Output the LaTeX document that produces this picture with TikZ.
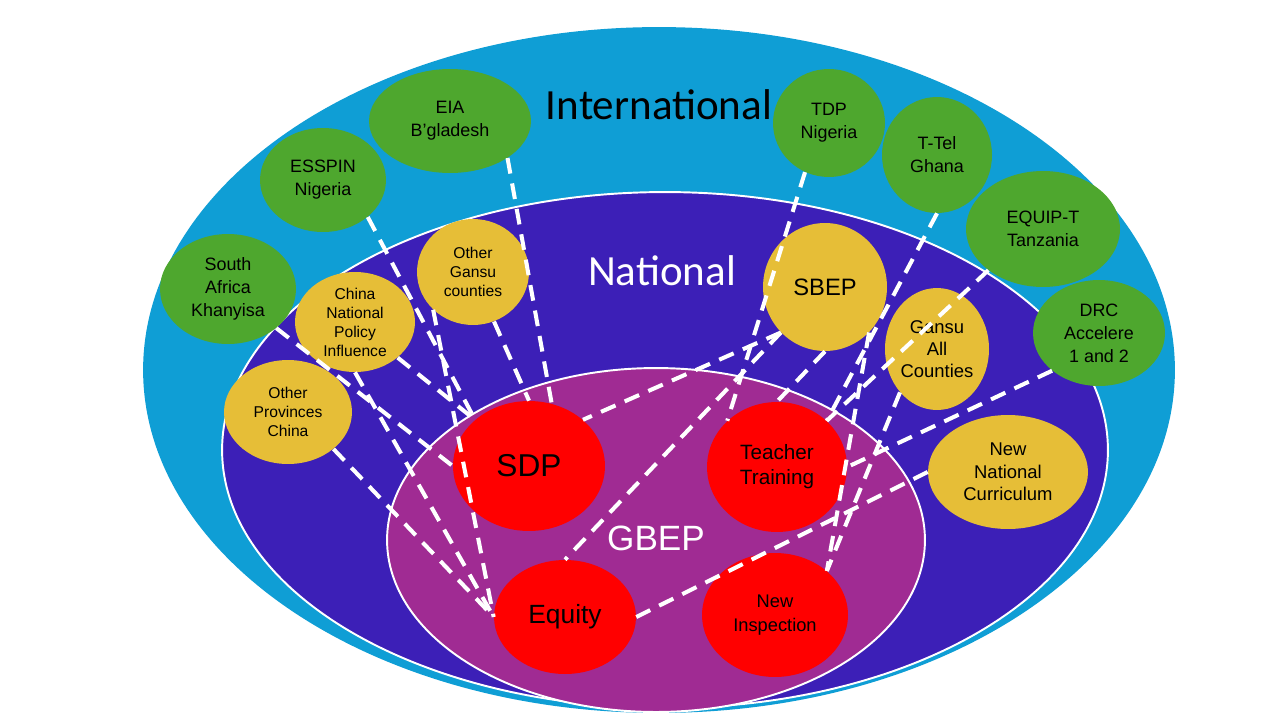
\documentclass[tikz,border=0pt]{standalone}
\usepackage{fontspec}
\setmainfont{Liberation Sans}
\newfontfamily\calibrifont{Carlito}
\usetikzlibrary{shapes.geometric}
\definecolor{intlblue}{HTML}{0F9ED5}
\definecolor{natlblue}{HTML}{3C1FB7}
\definecolor{gbeppurple}{HTML}{A02B93}
\definecolor{progreen}{HTML}{4EA72E}
\definecolor{proyellow}{HTML}{E6BE37}

\begin{document}
\begin{tikzpicture}[x=0.02cm,y=-0.02cm,
  intl/.style={ellipse,fill=progreen,inner sep=0pt,align=center,font=\fontsize{10.2}{13}\selectfont},
  natl/.style={ellipse,fill=proyellow,inner sep=0pt,align=center},
  core/.style={ellipse,fill=red,inner sep=0pt,align=center},
  link/.style={white,line width=2.3pt,dash pattern=on 9pt off 5.7pt}]
\useasboundingbox (0,0) rectangle (1280,720);

% Niveles
\fill[intlblue] (659,370) ellipse [x radius=10.32cm, y radius=6.86cm];
\filldraw[fill=natlblue, draw=white, line width=1.1pt] (665,450) ellipse [x radius=8.86cm, y radius=5.16cm];
\filldraw[fill=gbeppurple, draw=white, line width=1.1pt] (656,540) ellipse [x radius=5.38cm, y radius=3.44cm];

\node (intllabel) at (659,105) {\calibrifont\fontsize{24.5}{28}\selectfont International};
\node[white] (natllabel) at (662,271) {\calibrifont\fontsize{24.5}{28}\selectfont National};
\node[white, font=\fontsize{20}{24}\selectfont] (gbeplabel) at (656,538) {GBEP};

% Programas internacionales
\node[intl, minimum width=3.24cm, minimum height=2.08cm] (eia) at (450,121) {EIA\\B’gladesh};
\node[intl, minimum width=2.52cm, minimum height=2.08cm] (esspin) at (323,180) {ESSPIN\\Nigeria};
\node[intl, minimum width=2.72cm, minimum height=2.2cm] (khanyisa) at (228,289) {South\\Africa\\Khanyisa};
\node[intl, minimum width=2.24cm, minimum height=2.16cm] (tdp) at (829,123) {TDP\\Nigeria};
\node[intl, minimum width=2.2cm, minimum height=2.32cm] (ttel) at (937,155) {T-Tel\\Ghana};
\node[intl, minimum width=3.08cm, minimum height=2.32cm] (equipt) at (1043,229) {EQUIP-T\\Tanzania};
\node[intl, minimum width=2.64cm, minimum height=2.12cm] (drc) at (1099,333) {DRC\\Accelere\\1 and 2};

% Programas nacionales
\node[natl, minimum width=2.24cm, minimum height=2.12cm, font=\fontsize{8.9}{10.8}\selectfont] (ogansu) at (473,272) {Other\\Gansu\\counties};
\node[natl, minimum width=2.4cm, minimum height=2cm, font=\fontsize{8.9}{10.8}\selectfont] (cnpi) at (355,322) {China\\National\\Policy\\Influence};
\node[natl, minimum width=2.56cm, minimum height=2.08cm, font=\fontsize{8.9}{10.8}\selectfont] (oprov) at (288,412) {Other\\Provinces\\China};
\node[natl, minimum width=2.48cm, minimum height=2.56cm, font=\fontsize{13.5}{16}\selectfont] (sbep) at (825,287) {SBEP};
\node[natl, minimum width=2.08cm, minimum height=2.44cm, font=\fontsize{10.5}{12.5}\selectfont] (gansuall) at (937,349) {Gansu\\All\\Counties};
\node[natl, minimum width=3.2cm, minimum height=2.28cm, font=\fontsize{10.5}{12.8}\selectfont] (nnc) at (1008,472) {New\\National\\Curriculum};

% Componentes GBEP
\node[core, minimum width=3.04cm, minimum height=2.6cm, font=\fontsize{18}{21}\selectfont] (sdp) at (529,466) {SDP};
\node[core, minimum width=2.8cm, minimum height=2.6cm, font=\fontsize{11.8}{14.2}\selectfont] (tt) at (777,467) {Teacher\\Training};
\node[core, minimum width=2.84cm, minimum height=2.28cm, font=\fontsize{15}{18}\selectfont] (equity) at (565,617) {Equity};
\node[core, minimum width=2.92cm, minimum height=2.48cm, font=\fontsize{10.4}{13.7}\selectfont] (ni) at (775,615) {New\\Inspection};

% Enlaces lado izquierdo
\draw[link] (eia.south east) -- (sdp.70);
\draw[link] (esspin.south east) -- (sdp.north west);
\draw[link] (ogansu.-67) -- (sdp.north);
\draw[link] (ogansu.south west) -- (equity.west);
\draw[link] (cnpi.south east) -- (sdp.north west);
\draw[link] (cnpi.south) -- (equity.west);
\draw[link] (khanyisa.south east) -- (sdp.west);
\draw[link] (oprov.south east) -- (equity.west);

% Enlaces lado derecho
\draw[link] (tdp.-116) -- (tt.north west);
\draw[link] (ttel.south) -- (tt.north east);
\draw[link] (equipt.south west) -- (tt.north east);
\draw[link] (drc.south west) -- (tt.east);
\draw[link] (sbep.south west) -- (sdp.north east);
\draw[link] (sbep.south west) -- (equity.north);
\draw[link] (sbep.south) -- (tt.north);
\draw[link] (sbep.south east) -- (ni.north east);
\draw[link] (gansuall.south west) -- (ni.north east);
\draw[link] (nnc.west) -- (equity.east);
\end{tikzpicture}
\end{document}
